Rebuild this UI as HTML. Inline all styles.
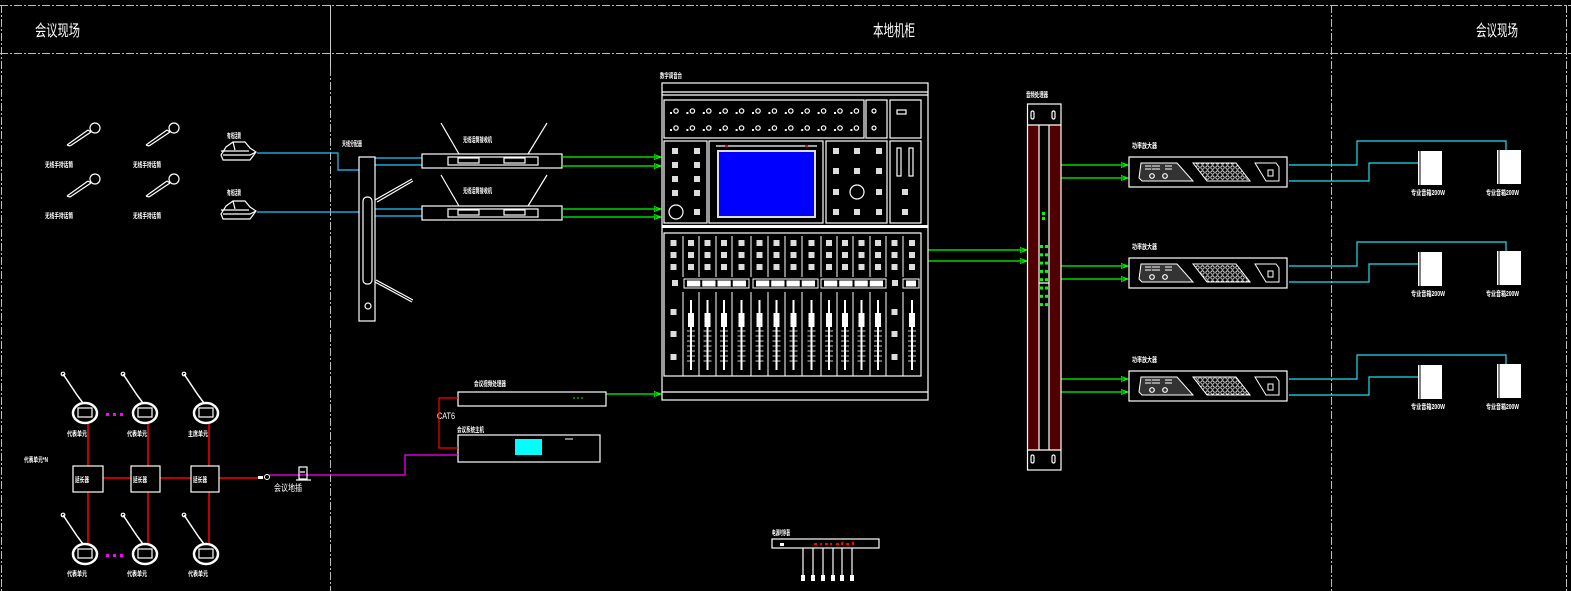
<!DOCTYPE html>
<html><head><meta charset="utf-8">
<style>
html,body{margin:0;padding:0;background:#000;}
svg{display:block}
text{font-family:"Liberation Sans","Noto Sans CJK SC",sans-serif;fill:#fff;}
text.s{font-weight:bold}
</style></head>
<body>
<svg id="s" width="1571" height="591" viewBox="0 0 1571 591" xmlns="http://www.w3.org/2000/svg">
<defs>
<pattern id="hex" width="5" height="5" patternUnits="userSpaceOnUse"><circle cx="2.5" cy="2.5" r="1.7" fill="none" stroke="#fff" stroke-width="0.8"/></pattern>
<marker id="ga" markerWidth="8" markerHeight="6" refX="7" refY="3" orient="auto" markerUnits="userSpaceOnUse"><path d="M0,0.5 L7,3 L0,5.5 Z" fill="none" stroke="#0f0" stroke-width="1"/></marker>
</defs>
<rect width="1571" height="591" fill="#000"/>
<g stroke="#bbb" stroke-width="1" stroke-dasharray="8,2,2,2" fill="none">
<line x1="0" y1="5.5" x2="1571" y2="5.5"/>
<line x1="0" y1="53.5" x2="1571" y2="53.5"/>
<line x1="1.5" y1="5" x2="1.5" y2="591"/>
<line x1="330.5" y1="68" x2="330.5" y2="591"/>
<line x1="1331.5" y1="5" x2="1331.5" y2="591"/>
<line x1="1566.5" y1="5" x2="1566.5" y2="591"/>
</g>
<line x1="330.5" y1="5" x2="330.5" y2="68" stroke="#ccc"/>
<text x="35" y="36" font-size="16" textLength="45" lengthAdjust="spacingAndGlyphs">会议现场</text>
<text x="873" y="36" font-size="16" textLength="42" lengthAdjust="spacingAndGlyphs">本地机柜</text>
<text x="1476" y="36" font-size="16" textLength="42" lengthAdjust="spacingAndGlyphs">会议现场</text>

<g stroke="#fff" stroke-width="1.2" fill="none">
<g id="mic"><path d="M67,145 L88,130 M70,146 L91,132 M67,145 L70,146 M88,130 L91,132"/><circle cx="95" cy="128" r="5"/></g>
<use href="#mic" x="79" y="0"/><use href="#mic" x="0" y="51"/><use href="#mic" x="79" y="51"/>
</g>
<g font-size="7">
<text class="s" x="45" y="167" textLength="28" lengthAdjust="spacingAndGlyphs">无线手持话筒</text>
<text class="s" x="133" y="167" textLength="28" lengthAdjust="spacingAndGlyphs">无线手持话筒</text>
<text class="s" x="45" y="218" textLength="28" lengthAdjust="spacingAndGlyphs">无线手持话筒</text>
<text class="s" x="133" y="218" textLength="28" lengthAdjust="spacingAndGlyphs">无线手持话筒</text>
<text class="s" x="227" y="138" textLength="14" lengthAdjust="spacingAndGlyphs">有线话筒</text>
<text class="s" x="227" y="195" textLength="14" lengthAdjust="spacingAndGlyphs">有线话筒</text>
</g>
<g stroke="#fff" stroke-width="1.2" fill="none">
<g id="bm"><path d="M226,147 L233,142 L245,142 L250,148 L256,152 L250,160 L223,160 L221,155 Z M223,155 L250,155 L256,152 M221,151 L249,151 M233,142 L235,150"/></g>
<use href="#bm" x="0" y="59"/>
</g>
<g stroke="#1ec8ff" stroke-width="1.2" fill="none">
<path d="M257,153 H338 V170 H359"/>
<path d="M257,212 H359"/>
<path d="M375,158 H422 M375,165 H422 M375,209 H422 M375,216 H422"/>
</g>
<text class="s" x="342" y="146" font-size="7" textLength="20" lengthAdjust="spacingAndGlyphs">天线分配器</text>
<g stroke="#fff" stroke-width="1.2" fill="none">
<rect x="359" y="157" width="16" height="164"/>
<rect x="363" y="197" width="9" height="87" rx="4"/>
<circle cx="368" cy="306" r="3"/>
<path d="M375,200 L412,179 M377,202 L413,181 M375,282 L412,302 M376,280 L413,300"/>
</g>
<g stroke="#fff" stroke-width="1.2" fill="none">
<g id="rx"><rect x="422" y="154" width="140" height="14"/><rect x="448" y="157" width="90" height="8"/>
<rect x="458" y="158" width="21" height="5"/><rect x="504" y="158" width="21" height="5"/>
<path d="M459,154 L441,123 M528,154 L547,123"/></g>
<use href="#rx" x="0" y="52"/>
</g>
<text class="s" x="463" y="142" font-size="7" textLength="29" lengthAdjust="spacingAndGlyphs">无线话筒接收机</text>
<text class="s" x="463" y="193" font-size="7" textLength="29" lengthAdjust="spacingAndGlyphs">无线话筒接收机</text>
<g stroke="#0f0" stroke-width="1.2" fill="none" marker-end="url(#ga)">
<path d="M562,157 H661"/><path d="M562,166 H661"/><path d="M562,209 H661"/><path d="M562,217 H661"/>
<path d="M606,394 H661"/>
<path d="M928,250 H1027"/><path d="M928,261 H1027"/>
<path d="M1061,165 H1128"/><path d="M1061,178 H1128"/>
<path d="M1061,266 H1128"/><path d="M1061,279 H1128"/>
<path d="M1061,379 H1128"/><path d="M1061,392 H1128"/>
</g>

<text class="s" x="660" y="78" font-size="7" textLength="22" lengthAdjust="spacingAndGlyphs">数字调音台</text>
<g id="mixer" stroke="#fff" stroke-width="1.2" fill="none">
<rect x="662" y="83" width="266" height="317"/>
<path d="M662,92 H928 M662,95 H928 M662,392 H928"/>
<rect x="664" y="100" width="200" height="38"/>
<rect x="866" y="100" width="21" height="38"/>
<rect x="890" y="100" width="31" height="38"/>
<rect x="897" y="110" width="9" height="4"/>
<circle cx="874" cy="111" r="2"/><circle cx="874" cy="128" r="2"/>
<rect x="664" y="141" width="43" height="82"/>
<rect x="709" y="141" width="114" height="82"/>
<rect x="826" y="141" width="61" height="82"/>
<rect x="890" y="141" width="31" height="82"/>
<path d="M716,146 H817"/>
<rect x="897" y="148" width="4" height="28"/><rect x="909" y="148" width="4" height="28"/>
<circle cx="676" cy="212" r="7"/><circle cx="857" cy="192" r="7"/>
<rect x="664" y="233" width="257" height="143"/>
</g>
<rect x="717" y="150" width="99" height="68" fill="#ddd"/>
<rect x="719" y="152" width="95" height="64" fill="#0000ff"/>
<rect x="662" y="225" width="266" height="3" fill="#fff"/>
<rect x="725" y="145" width="3" height="2" fill="#f00"/><rect x="805" y="145" width="3" height="2" fill="#f00"/>
<g id="mixgen"></g>

<text class="s" x="474" y="386" font-size="7" textLength="32" lengthAdjust="spacingAndGlyphs">会议视频处理器</text>
<text class="s" x="457" y="432" font-size="7" textLength="27" lengthAdjust="spacingAndGlyphs">会议系统主机</text>
<g stroke="#fff" stroke-width="1.2" fill="none">
<rect x="458" y="392" width="148" height="14"/>
<rect x="458" y="435" width="142" height="27"/>
</g>
<path d="M573,398 h10" stroke="#0a0" stroke-width="1.5" stroke-dasharray="2,2"/>
<rect x="515" y="439" width="27" height="16" fill="#00ffff"/>
<path d="M565,439 h8" stroke="#fff"/>
<text x="437" y="419" font-size="9" fill="#fff" textLength="18" lengthAdjust="spacingAndGlyphs">CAT6</text>
<path d="M458,398 H439 V448 H458" stroke="#f00" stroke-width="1.2" fill="none"/>
<path d="M296,475 H405 V455 H458" stroke="#f0f" stroke-width="1.2" fill="none"/>
<path d="M269,475 H296" stroke="#f0f" stroke-width="1.2"/>

<g stroke="#f00" stroke-width="1.5" fill="none">
<path d="M88,423 V545 M148,423 V545 M209,423 V545"/>
<path d="M103,478 H131 M160,478 H191 M219,478 H258"/>
</g>
<g stroke="#fff" stroke-width="1.2" fill="#000">
<rect x="73" y="466" width="30" height="26"/>
<rect x="131" y="466" width="29" height="26"/>
<rect x="191" y="466" width="28" height="26"/>
</g>
<g font-size="7">
<text class="s" x="75" y="482" textLength="14" lengthAdjust="spacingAndGlyphs">延长器</text>
<text class="s" x="133" y="482" textLength="14" lengthAdjust="spacingAndGlyphs">延长器</text>
<text class="s" x="193" y="482" textLength="14" lengthAdjust="spacingAndGlyphs">延长器</text>
<text class="s" x="24" y="462" textLength="24" lengthAdjust="spacingAndGlyphs">代表单元*N</text>
<text class="s" x="67" y="436" textLength="20" lengthAdjust="spacingAndGlyphs">代表单元</text>
<text class="s" x="127" y="436" textLength="20" lengthAdjust="spacingAndGlyphs">代表单元</text>
<text class="s" x="188" y="436" textLength="20" lengthAdjust="spacingAndGlyphs">主席单元</text>
<text class="s" x="67" y="576" textLength="20" lengthAdjust="spacingAndGlyphs">代表单元</text>
<text class="s" x="127" y="576" textLength="20" lengthAdjust="spacingAndGlyphs">代表单元</text>
<text class="s" x="188" y="576" textLength="20" lengthAdjust="spacingAndGlyphs">代表单元</text>
<text x="274" y="491" font-size="9" textLength="28" lengthAdjust="spacingAndGlyphs">会议地插</text>
</g>
<g stroke="#fff" stroke-width="1.2" fill="none" id="units"></g>
<g fill="#f0f">
<rect x="106" y="413" width="3" height="3"/><rect x="113" y="413" width="3" height="3"/><rect x="120" y="413" width="3" height="3"/>
<rect x="106" y="554" width="3" height="3"/><rect x="113" y="554" width="3" height="3"/><rect x="120" y="554" width="3" height="3"/>
</g>
<rect x="258" y="476" width="5" height="3" fill="#fff"/><circle cx="267" cy="477" r="2.5" fill="none" stroke="#fff"/>
<g stroke="#fff" stroke-width="1.2" fill="none"><rect x="299" y="467" width="8" height="12"/><path d="M296,480 L311,480 M300,472 h5"/></g>

<text class="s" x="1026" y="97" font-size="7" textLength="22" lengthAdjust="spacingAndGlyphs">音频处理器</text>
<rect x="1028" y="125" width="11" height="325" fill="#500000"/>
<rect x="1049" y="125" width="12" height="325" fill="#500000"/>
<g stroke="#fff" stroke-width="1.2" fill="none">
<rect x="1027.5" y="104" width="33.5" height="366"/>
<path d="M1027,125 H1061 M1027,450 H1061 M1039,125 V450 M1049,125 V450 M1039,283 H1049"/>
<rect x="1031" y="111" width="3" height="8" rx="1.5"/><rect x="1052" y="111" width="3" height="8" rx="1.5"/>
<rect x="1031" y="455" width="3" height="8" rx="1.5"/><rect x="1052" y="455" width="3" height="8" rx="1.5"/>
</g>
<g fill="#0f0" id="pdots"></g>

<g id="amps"></g>

<text class="s" x="772" y="535" font-size="7" textLength="18" lengthAdjust="spacingAndGlyphs">电源时序器</text>
<g stroke="#fff" stroke-width="1.2" fill="none">
<rect x="772" y="539" width="107" height="9"/>
<path d="M803,548 V577 M813,548 V577 M823,548 V577 M833,548 V577 M842,548 V577 M852,548 V577"/>
</g>
<g fill="#f00"><rect x="814" y="543" width="3" height="2"/><rect x="820" y="543" width="2" height="2"/><rect x="825" y="543" width="3" height="2"/><rect x="830" y="543" width="2" height="2"/><rect x="836" y="543" width="3" height="2"/><rect x="841" y="542" width="2" height="3"/><rect x="846" y="543" width="3" height="2"/><rect x="852" y="542" width="2" height="3"/></g>
<rect x="780" y="543" width="4" height="3" fill="#fff"/>
<g fill="#fff"><rect x="801" y="575" width="4" height="6"/><rect x="811" y="575" width="4" height="6"/><rect x="821" y="575" width="4" height="6"/><rect x="831" y="575" width="4" height="6"/><rect x="840" y="575" width="4" height="6"/><rect x="850" y="575" width="4" height="6"/></g>
</svg>
<script>
var NS="http://www.w3.org/2000/svg";
function el(p,t,a){var e=document.createElementNS(NS,t);for(var k in a)e.setAttribute(k,a[k]);p.appendChild(e);return e;}
var g=document.getElementById('mixgen');
for(var r=0;r<2;r++)for(var i=0;i<12;i++){var x=673+i*16.4,y=r?128:111;el(g,'circle',{cx:x+3,cy:y,r:2.2,stroke:"#fff","stroke-width":1.2,fill:"none"});el(g,'rect',{x:x-3,y:y+1,width:2,height:2,fill:"#fff"});}
[675,697].forEach(function(x){[151,165,179,193].forEach(function(y){el(g,'rect',{x:x-3,y:y-3,width:6,height:6,fill:"#ddd"});});});
el(g,'rect',{x:694,y:209,width:6,height:6,fill:"#ddd"});
[836,857,879].forEach(function(x){[151,171,192,212].forEach(function(y){if(x==857&&y==192)return;el(g,'rect',{x:x-3,y:y-3,width:6,height:6,fill:"#ddd"});});});
el(g,'rect',{x:902,y:189,width:6,height:6,fill:"#ddd"});el(g,'rect',{x:902,y:209,width:6,height:6,fill:"#ddd"});
var b=[664,683,699,716,732,751,768,785,802,821,837,853,870,886,903,921];
for(var c=0;c<15;c++){var cx=(b[c]+b[c+1])/2;
 [243,255,267].forEach(function(y){el(g,'rect',{x:cx-3,y:y-3,width:6,height:6,fill:"#ddd"});});
 if(c>0){el(g,'line',{x1:b[c],y1:236,x2:b[c],y2:277,stroke:"#fff","stroke-width":1});el(g,'line',{x1:b[c],y1:292,x2:b[c],y2:376,stroke:"#fff","stroke-width":1});}
 if(c==0||c==13){[312,334,357].forEach(function(y){el(g,'rect',{x:cx-3,y:y-3,width:6,height:6,fill:"#ddd"});});}
 else{el(g,'rect',{x:cx-1,y:300,width:2,height:70,fill:"#fff"});el(g,'rect',{x:cx-3,y:313,width:6,height:14,fill:"#fff"});
  for(var t=0;t<7;t++)el(g,'line',{x1:cx-4,y1:331+t*5,x2:cx+4,y2:331+t*5,stroke:"#fff","stroke-width":0.8});}
}
[[684,749],[753,818],[821,886],[903,919]].forEach(function(p){el(g,'rect',{x:p[0],y:279,width:p[1]-p[0],height:9,stroke:"#fff","stroke-width":1,fill:"none"});
 var n=p[1]-p[0]>30?4:1,w=(p[1]-p[0]-4)/n;for(var i=0;i<n;i++)el(g,'rect',{x:p[0]+2+i*w+1,y:280.5,width:w-2,height:6,fill:"#fff"});});
el(g,'rect',{x:672,y:280,width:6,height:6,fill:"#ddd"});el(g,'rect',{x:892,y:280,width:6,height:6,fill:"#ddd"});
var u=document.getElementById('units');
[[85,413],[145,413],[206,413],[85,554],[145,554],[206,554]].forEach(function(p){var x=p[0],y=p[1];
 el(u,'ellipse',{cx:x,cy:y,rx:12,ry:10,stroke:"#fff","stroke-width":2.5,fill:"#000"});
 el(u,'rect',{x:x-7,y:y-5,width:14,height:9,stroke:"#fff","stroke-width":1.2,fill:"none"});
 el(u,'path',{d:"M"+(x-2)+","+(y-10)+" L"+(x-8)+","+(y-18)+" L"+(x-22)+","+(y-39),stroke:"#fff","stroke-width":1.5,fill:"none"});
 el(u,'circle',{cx:x-22,cy:y-39,r:1.8,stroke:"#fff",fill:"none"});});
var pd=document.getElementById('pdots');
[213,218].forEach(function(y){el(pd,'rect',{x:1042,y:y-1,width:3,height:3});});
for(var i=0;i<8;i++){var y=245+i*8.3;el(pd,'rect',{x:1040,y:y,width:3,height:3});el(pd,'rect',{x:1045,y:y,width:3,height:3});}
var A=document.getElementById('amps');
[0,101,214].forEach(function(o){
 var y=157+o;
 el(A,'rect',{x:1129,y:y,width:158,height:30,stroke:"#fff","stroke-width":1.2,fill:"none"});
 el(A,'path',{d:"M1141,"+(y+6)+" H1177 L1193,"+(y+24)+" H1142 L1139,"+(y+21)+" Z",fill:"#333",stroke:"#fff","stroke-width":1});
 el(A,'path',{d:"M1145,"+(y+9)+" H1160 M1145,"+(y+12)+" H1160 M1165,"+(y+9)+" H1172 M1165,"+(y+12)+" H1172",stroke:"#fff","stroke-width":1});
 el(A,'rect',{x:1151,y:y+8,width:1,height:5,fill:"#f00"});
 el(A,'circle',{cx:1152,cy:y+19,r:2.3,stroke:"#fff","stroke-width":1.2,fill:"none"});
 el(A,'circle',{cx:1165,cy:y+19,r:2.3,stroke:"#fff","stroke-width":1.2,fill:"none"});
 el(A,'path',{d:"M1193,"+(y+6)+" H1236 L1250,"+(y+24)+" H1207 Z",fill:"url(#hex)",stroke:"#fff","stroke-width":1});
 el(A,'path',{d:"M1255,"+(y+6)+" H1276 L1279,"+(y+10)+" V"+(y+24)+" H1266 Z",fill:"none",stroke:"#fff","stroke-width":1});
 el(A,'rect',{x:1268,y:y+13,width:5,height:6,fill:"none",stroke:"#fff","stroke-width":1});
 el(A,'path',{d:"M1289,"+(y+8)+" H1357 V"+(y-16)+" H1506 V"+(y-7)+" M1289,"+(y+24)+" H1369 V"+(y+6)+" H1418",stroke:"#1ee0f0","stroke-width":1.2,fill:"none"});
 [[1418,y-6],[1497,y-7]].forEach(function(s){
  el(A,'rect',{x:s[0],y:s[1],width:24,height:34,fill:"#fff"});
  el(A,'path',{d:"M"+(s[0]+2)+","+s[1]+" V"+(s[1]+34),stroke:"#000","stroke-width":1});});
 var t1=el(A,'text',{"class":"s",x:1132,y:y-9,"font-size":7,textLength:25,lengthAdjust:"spacingAndGlyphs"});t1.textContent="功率放大器";
 var t2=el(A,'text',{"class":"s",x:1411,y:y+38,"font-size":7,textLength:34,lengthAdjust:"spacingAndGlyphs"});t2.textContent="专业音箱200W";
 var t3=el(A,'text',{"class":"s",x:1486,y:y+38,"font-size":7,textLength:33,lengthAdjust:"spacingAndGlyphs"});t3.textContent="专业音箱200W";
});
</script>
</body></html>
